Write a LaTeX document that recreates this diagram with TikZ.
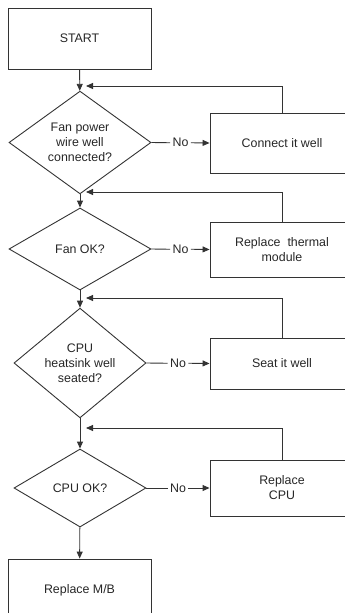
\documentclass[tikz,border=0pt]{standalone}
\usepackage{fontspec}
\setmainfont{Liberation Sans}
\usepackage{tikz}
\usetikzlibrary{shapes.geometric,arrows.meta}

\begin{document}
\begin{tikzpicture}[x=1pt,y=-1pt,
    line width=0.9pt, draw=black!80, text=black!85,
    font=\fontsize{12.4}{15}\selectfont,
    box/.style={draw,rectangle,minimum width=143pt,minimum height=61pt,inner sep=0pt},
    test/.style={draw,diamond,align=center,inner sep=0pt,minimum width=142pt,minimum height=83pt},
    fix/.style={draw,rectangle,align=center,minimum width=144pt,inner sep=0pt},
    no/.style={inner sep=2pt},
    flow/.style={-{Triangle[length=7pt,width=6pt]}}]
  \useasboundingbox (0,0) rectangle (345,613);
  \clip (0,0) rectangle (345,613);
  % main column
  \node[box] (start) at (79.5,38.5) {START};
  \node[test] (d1) at (80,142.5) {Fan power\\wire well\\connected?};
  \node[test,minimum height=82pt] (d2) at (80,249) {Fan OK?};
  \node[test,minimum width=132pt,minimum height=79pt] (d3) at (80,363) {CPU\\heatsink well\\seated?};
  \node[test,minimum width=132pt,minimum height=78pt] (d4) at (80,488) {CPU OK?};
  \node[box,minimum height=62pt] (mb) at (79.5,590) {Replace M/B};
  % repairs on the right
  \node[fix,minimum height=60pt] (r1) at (282,143) {Connect it well};
  \node[fix,minimum height=55pt] (r2) at (282,249.5) {Replace\ \ thermal\\module};
  \node[fix,minimum height=51pt] (r3) at (282,363.5) {Seat it well};
  \node[fix,minimum height=56pt] (r4) at (282,488) {Replace\\CPU};
  % return points on the main line
  \foreach \i/\y in {1/86,2/192,3/298,4/428}
    \coordinate (j\i) at (80,\y);
  \draw[flow] (start) -- (d1);
  \draw[flow] (d1) -- (d2);
  \draw[flow] (d2) -- (d3);
  \draw[flow] (d3) -- (d4);
  \draw[flow] (d4) -- (mb);
  % "No" branches and loops back
  \foreach \i in {1,...,4} {
    \path (d\i.east) -- (r\i.west) node[no,pos=0.5] (no\i) {No};
    \draw (d\i.east) -- (no\i.west);
    \draw[flow] (no\i.east) -- (r\i.west);
    \draw[flow,shorten >=6pt] (r\i.north) |- (j\i);
  }
\end{tikzpicture}
\end{document}
